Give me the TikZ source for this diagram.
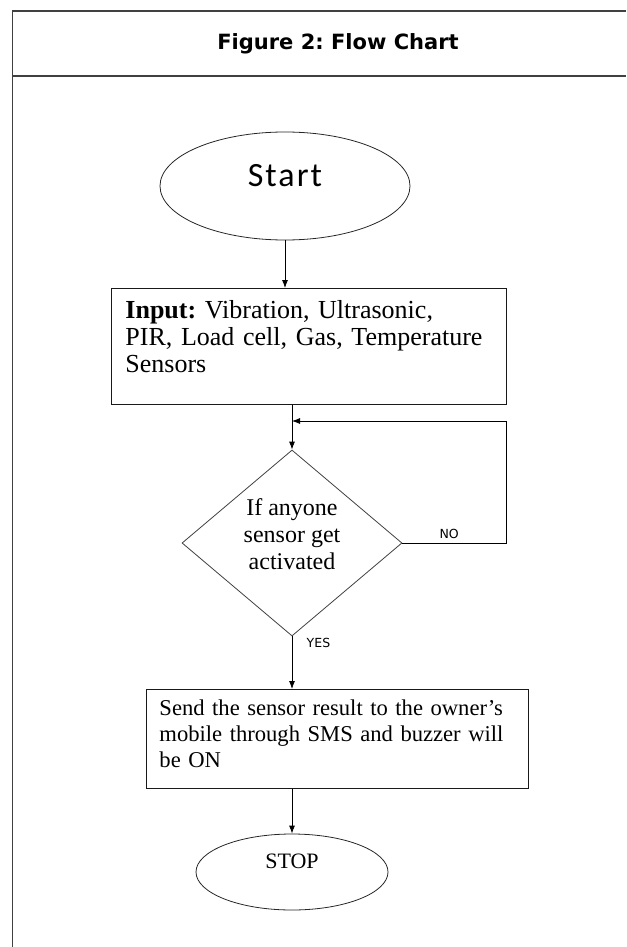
\documentclass[tikz,border=0pt]{standalone}
\usepackage{fontspec}
\setmainfont{Liberation Serif}
\newfontfamily\headfont{DejaVu Sans}
\newfontfamily\startfont[LetterSpace=6]{Carlito}
\usetikzlibrary{shapes,shapes.misc,arrows.meta}
\frenchspacing

\begin{document}
\begin{tikzpicture}[-{Latex[length=8pt,width=6pt]}, x=1pt, y=-1pt]
   \useasboundingbox (0,0) rectangle (626,947);
   \tikzstyle{frame}=[-, draw=black!75, line width=1.3pt]
   \tikzstyle{box}=[rectangle, draw=black!90, line width=0.9pt, anchor=north west, inner ysep=0pt, align=left]
   \tikzstyle{oval}=[ellipse, draw=black!85, line width=0.8pt, inner sep=0pt]
   \tikzstyle{flow}=[line width=0.8pt]
   \tikzstyle{tag}=[font=\headfont\fontsize{12.5}{14}\selectfont]
   \draw[frame] (626,11) -- (12.5,11) -- (12.5,947);
   \draw[frame] (12.5,76) -- (626,76);
   \node[font=\headfont\bfseries\fontsize{21}{24}\selectfont] (title) at (338,43.5) {Figure 2: Flow Chart};
   \node[oval, minimum width=250pt, minimum height=108pt, text height=22pt, text depth=22pt, font=\startfont\fontsize{34}{40}\selectfont] (start) at (285,186) {Start};
   \node[box, inner xsep=14pt, text width=367pt, text height=30pt, text depth=86pt, font=\fontsize{26}{27}\selectfont] (input) at (111,288)
      {\textbf{Input:} Vibration, Ultrasonic,\\ PIR, Load cell, Gas, Temperature\\ Sensors};
   \node[diamond, draw=black!75, line width=0.8pt, minimum width=220pt, minimum height=186pt, inner sep=0pt, align=center, text height=52.5pt, font=\fontsize{24}{27}\selectfont] (cond) at (292,543)
      {If anyone\\ sensor get\\ activated};
   \node[box, inner xsep=13pt, text width=356pt, text height=26pt, text depth=73pt, font=\fontsize{22.6}{26}\selectfont] (send) at (146,689)
      {Send the sensor result to the owner’s\\ mobile through SMS and buzzer will\\ be ON};
   \node[oval, minimum width=192pt, minimum height=76pt, text height=15pt, text depth=23pt, font=\fontsize{22}{26}\selectfont] (stop) at (292,872) {STOP};
   \coordinate (join) at (292,421);
   \draw[flow] (start.south) -- (start.south |- input.north);
   \draw[flow] (input.south -| cond.north) -- (cond.north);
   \draw[flow] (cond.east) -- node[tag, above=1pt, pos=0.45] {NO} ++(104,0) |- (join);
   \draw[flow] (cond.south) -- node[tag, pos=0.12, right=11pt] {YES} (cond.south |- send.north);
   \draw[flow] (send.south -| stop.north) -- (stop.north);
\end{tikzpicture}
\end{document}
